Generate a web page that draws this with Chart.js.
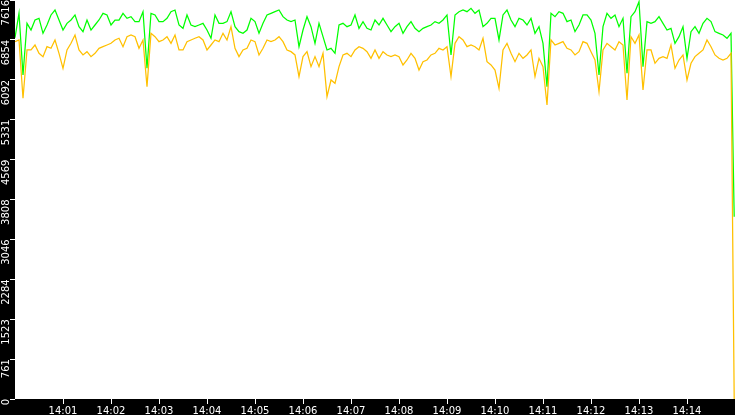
<!DOCTYPE html>
<html>
<head>
<meta charset="utf-8">
<script src="https://cdn.jsdelivr.net/npm/chart.js@4/dist/chart.umd.min.js"></script>
<style>
  html, body { margin: 0; padding: 0; background: #000; }
  canvas { display: block; }
</style>
</head>
<body>
<canvas id="chart" width="735" height="415"></canvas>
<script>
// one reading every 5 s from 14:00:00, plus the closing reading at 14:14:59
const SAMPLE_SECONDS = 5;
const END_SECONDS = 899;
const X_MAX = 900;
const Y_MAX = 7616;

const greenValues = [
  6897, 7362, 6185, 7171, 7043, 7234, 7266, 6980, 7139, 7330, 7425, 7234, 7043, 7171, 7234,
  7330, 7107, 7012, 7234, 7043, 7139, 7234, 7362, 7330, 7139, 7234, 7234, 7362, 7266, 7298,
  7203, 7203, 7393, 6312, 7362, 7330, 7203, 7203, 7266, 7393, 7425, 7139, 7075, 7330, 7139,
  7107, 7139, 7171, 7043, 6885, 7330, 7171, 7171, 7203, 7393, 7107, 7012, 6980, 7043, 7266,
  7203, 6980, 7171, 7330, 7362, 7393, 7425, 7298, 7234, 7203, 7234, 6725, 7043, 7298, 7107,
  6789, 7171, 6916, 6662, 6694, 6598, 7139, 7171, 7107, 7139, 7330, 7075, 7203, 7075, 7043,
  7234, 7139, 7266, 7139, 7012, 7107, 7171, 6980, 7107, 7203, 7075, 7012, 7075, 7107, 7139,
  7203, 7171, 7234, 7330, 6567, 7330, 7393, 7425, 7393, 7457, 7362, 7425, 7107, 7171, 7266,
  7266, 6853, 7330, 7425, 7234, 7107, 7266, 7234, 7139, 7266, 6980, 7107, 6789, 5962, 7362,
  7298, 7393, 7362, 7203, 7234, 7012, 7139, 7330, 7330, 7234, 6980, 6185, 7107, 7362, 7266,
  7330, 7107, 7266, 6217, 7298, 7393, 7584, 6344, 7203, 7171, 7203, 7298, 7171, 7043, 7075,
  6789, 6916, 7107, 6503, 7012, 7107, 6980, 7171, 7266, 7203, 7012, 6980, 6948, 6885, 6980,
  3480,
];

const orangeValues = [
  6821, 6853, 5740, 6662, 6662, 6757, 6598, 6535, 6725, 6694, 6853, 6598, 6312, 6662, 6789,
  6948, 6662, 6567, 6630, 6535, 6598, 6694, 6725, 6757, 6789, 6853, 6885, 6725, 6916, 6948,
  6916, 6694, 6853, 5962, 6980, 6916, 6821, 6853, 6916, 6789, 6948, 6662, 6662, 6821, 6853,
  6885, 6916, 6853, 6662, 6757, 6853, 6821, 6980, 6853, 7107, 6694, 6535, 6662, 6694, 6853,
  6821, 6567, 6694, 6853, 6821, 6853, 6916, 6821, 6662, 6630, 6567, 6153, 6535, 6630, 6344,
  6535, 6344, 6598, 5771, 6089, 6025, 6344, 6567, 6598, 6535, 6662, 6725, 6694, 6630, 6503,
  6662, 6503, 6630, 6567, 6535, 6567, 6535, 6376, 6471, 6598, 6503, 6280, 6439, 6471, 6567,
  6598, 6694, 6662, 6725, 6153, 6789, 6916, 6853, 6725, 6757, 6725, 6662, 6885, 6439, 6376,
  6280, 5931, 6662, 6789, 6598, 6439, 6598, 6503, 6567, 6662, 6153, 6503, 6344, 5612, 6853,
  6757, 6789, 6821, 6694, 6662, 6567, 6630, 6821, 6789, 6630, 6471, 5867, 6662, 6789, 6725,
  6662, 6821, 6757, 5708, 6916, 6789, 6948, 5899, 6662, 6662, 6408, 6503, 6535, 6503, 6757,
  6312, 6471, 6567, 6089, 6408, 6535, 6598, 6662, 6853, 6725, 6567, 6503, 6471, 6503, 6598,
  0,
];

const xTickSeconds = [60, 120, 180, 240, 300, 360, 420, 480, 540, 600, 660, 720, 780, 840];
const xTickLabels = ["14:01", "14:02", "14:03", "14:04", "14:05", "14:06", "14:07",
  "14:08", "14:09", "14:10", "14:11", "14:12", "14:13", "14:14"];
const yTickValues = [0, 761.6, 1523.2, 2284.8, 3046.4, 3808, 4569.6, 5331.2, 6092.8, 6854.4, 7616];
const yTickLabels = ["0", "761", "1523", "2284", "3046", "3808", "4569", "5331", "6092", "6854", "7616"];

const TICK_FONT = { family: "DejaVu Sans", size: 10 };

function toPoints(values) {
  // last entry is the closing reading, everything before is on the 5 s grid
  return values.map((v, i) => ({
    x: i === values.length - 1 ? END_SECONDS : i * SAMPLE_SECONDS,
    y: v,
  }));
}

function lineDataset(label, values, color) {
  return {
    label,
    data: toPoints(values),
    borderColor: color,
    backgroundColor: color,
    borderWidth: 1.25,
    pointRadius: 0,
    tension: 0,
    fill: false,
  };
}

// black frame everywhere, white plot area
const plotBackground = {
  id: "plotBackground",
  beforeDraw(chart) {
    const { ctx, chartArea: a } = chart;
    ctx.save();
    ctx.fillStyle = "#000";
    ctx.fillRect(0, 0, chart.width, chart.height);
    ctx.fillStyle = "#fff";
    ctx.fillRect(a.left, a.top, a.right - a.left, a.bottom - a.top);
    ctx.restore();
  },
};

new Chart(document.getElementById("chart"), {
  type: "line",
  data: {
    datasets: [
      lineDataset("orange", orangeValues, "#ffc000"),
      lineDataset("green", greenValues, "#00ff00"),
    ],
  },
  plugins: [plotBackground],
  options: {
    responsive: false,
    animation: false,
    devicePixelRatio: 1,
    layout: { padding: 0 },
    plugins: { legend: { display: false }, tooltip: { enabled: false } },
    scales: {
      x: {
        type: "linear",
        min: 0,
        max: X_MAX,
        afterBuildTicks: (s) => { s.ticks = xTickSeconds.map((v) => ({ value: v })); },
        afterFit: (s) => { s.height = 16; s.paddingLeft = 0; s.paddingRight = 0; },
        ticks: {
          color: "#fff",
          font: TICK_FONT,
          padding: 1,
          maxRotation: 0,
          autoSkip: false,
          callback: (v, i) => xTickLabels[i],
        },
        grid: { drawOnChartArea: false, color: "#fff", tickLength: 5 },
        border: { display: false },
      },
      y: {
        type: "linear",
        min: 0,
        max: Y_MAX,
        afterBuildTicks: (s) => { s.ticks = yTickValues.map((v) => ({ value: v })); },
        afterFit: (s) => { s.width = 15; s.paddingTop = 0; s.paddingBottom = 0; },
        ticks: {
          color: "#fff",
          font: TICK_FONT,
          padding: 4,
          minRotation: 90,
          maxRotation: 90,
          autoSkip: false,
          callback: (v, i) => yTickLabels[i],
        },
        grid: { drawOnChartArea: false, color: "#fff", tickLength: 5 },
        border: { display: false },
      },
    },
  },
});
</script>
</body>
</html>
